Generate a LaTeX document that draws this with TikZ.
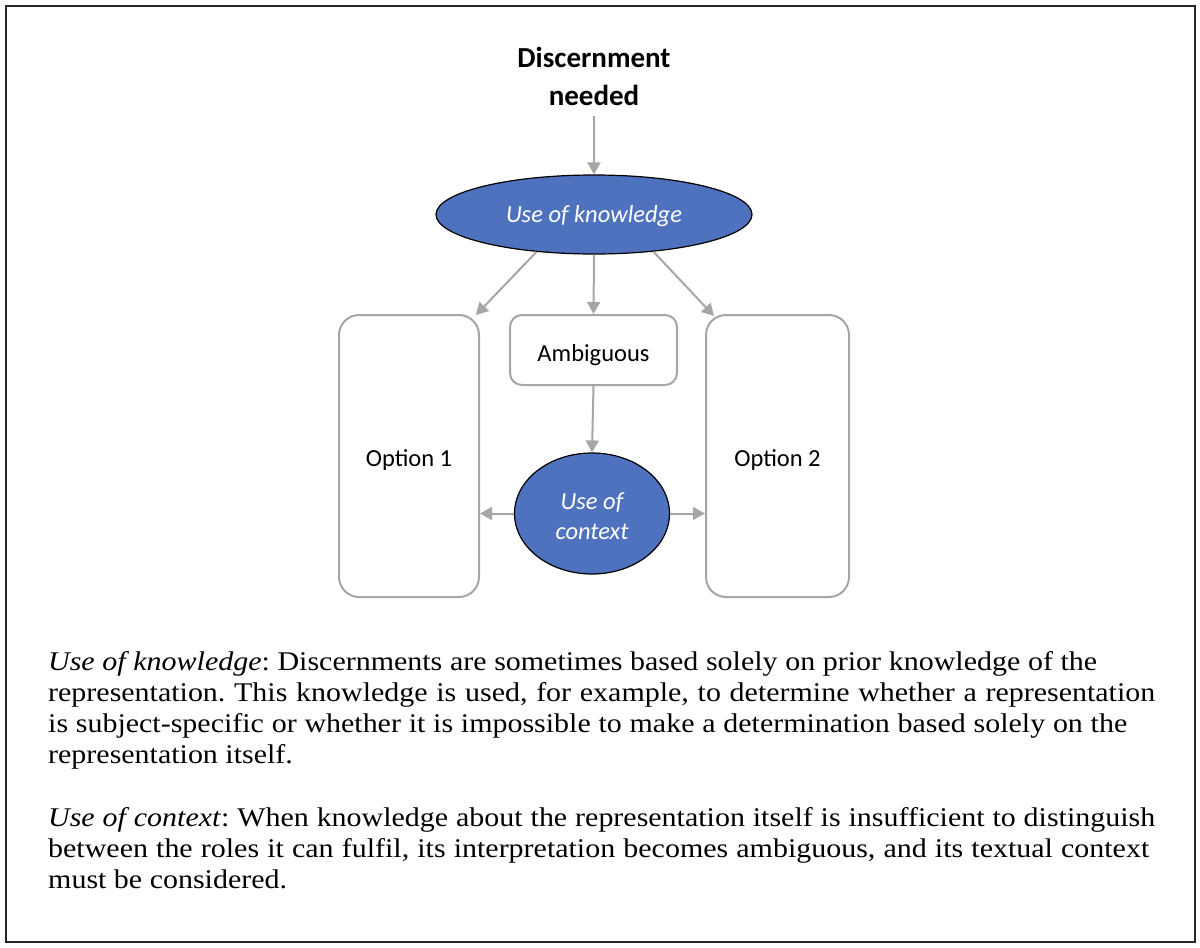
\documentclass[tikz,border=0pt]{standalone}
\usepackage{fontspec}
\setmainfont{Liberation Serif}[FakeStretch=1.11]
\newfontfamily\calfont{Carlito}
\usetikzlibrary{shapes.geometric,arrows.meta}
\definecolor{ublue}{RGB}{79,114,190}
\definecolor{agray}{RGB}{166,166,166}
\newcommand{\lowerit}[2]{\raisebox{-#1}[\height][\depth]{#2}}
\newcommand{\fitline}[2]{\makebox[#1][s]{#2}}
\begin{document}
\frenchspacing
\begin{tikzpicture}[x=1pt,y=-1pt,
  arr/.style={draw=agray,line width=2pt,-{Triangle[length=12pt,width=13pt]}},
  ell/.style={ellipse,draw=black,line width=1.2pt,fill=ublue,text=white,inner sep=0pt,
    font=\calfont\itshape\fontsize{24.5}{30}\selectfont,align=center},
  optbox/.style={rectangle,draw=agray,line width=2pt,fill=white,inner sep=0pt,
    font=\calfont\fontsize{24.5}{30}\selectfont,align=center},
  titlestyle/.style={font=\calfont\bfseries\fontsize{29}{38}\selectfont,align=center,inner sep=0pt},
  para/.style={anchor=north west,inner sep=0pt,align=left,
    font=\fontsize{27}{31}\selectfont}
]
\useasboundingbox (0,0) rectangle (1200,948);
\draw[line width=2pt,black!85] (6,6) rectangle (1195,942);

\node[titlestyle] (dn) at (594,76) {Discernment\\needed};
\node[ell,minimum width=316pt,minimum height=79pt] (uk) at (594,214.5) {\lowerit{2pt}{Use of knowledge}};
\node[optbox,rounded corners=20pt,minimum width=140pt,minimum height=282pt] (opt1) at (409,456) {\lowerit{4pt}{Option 1}};
\node[optbox,rounded corners=20pt,minimum width=143pt,minimum height=282pt] (opt2) at (777.5,456) {\lowerit{4pt}{Option 2}};
\node[optbox,rounded corners=12pt,minimum width=167pt,minimum height=70pt] (amb) at (593.5,350) {\lowerit{5pt}{Ambiguous}};
\node[ell,minimum width=155pt,minimum height=121pt] (uc) at (592,513.5) {\lowerit{3pt}{Use of}\\\lowerit{3pt}{context}};

\draw[arr] (dn.south) ++(0,11) -- (uk.north);
\draw[arr] (uk.213) -- ([shift={(-4,1)}]opt1.north east);
\draw[arr] (uk.south) -- (amb.north);
\draw[arr] (uk.328) -- ([shift={(9,2)}]opt2.north west);
\draw[arr] (amb.south) -- (uc.north);
\draw[arr] (uc.west) -- (uc.west -| opt1.east);
\draw[arr] (uc.east) -- (uc.east -| opt2.west);

\node[para] (p1) at (48,651) {\fitline{1049pt}{\textit{Use of knowledge}: Discernments are sometimes based solely on prior knowledge of the}\\
\fitline{1107pt}{representation. This knowledge is used, for example, to determine whether a representation}\\
\fitline{1079pt}{is subject-specific or whether it is impossible to make a determination based solely on the}\\
representation itself.};
\node[para] (p2) at (48,807) {\fitline{1107pt}{\textit{Use of context}: When knowledge about the representation itself is insufficient to distinguish}\\
\fitline{1101pt}{between the roles it can fulfil, its interpretation becomes ambiguous, and its textual context}\\
must be considered.};
\end{tikzpicture}
\end{document}
